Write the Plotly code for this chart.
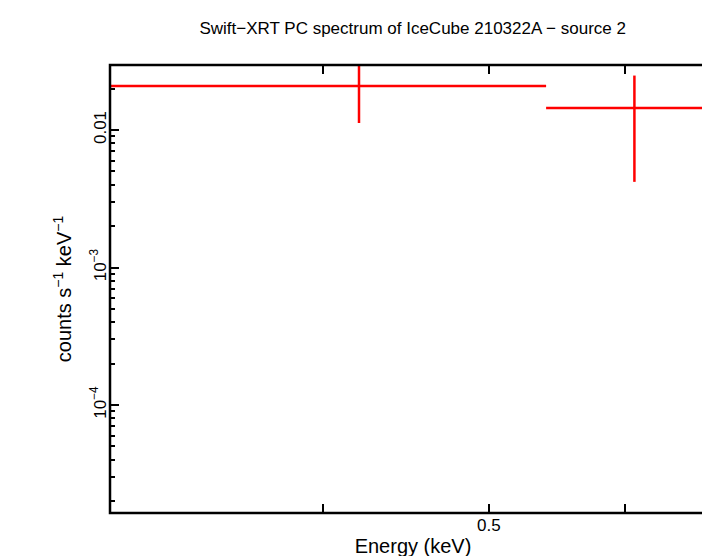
import plotly.graph_objects as go

# Spectrum bins (keV) and rates (counts s^-1 keV^-1)
energy = [0.42, 0.608]
energy_lo = [0.29, 0.54]
energy_hi = [0.54, 0.69]
rate = [0.0209, 0.01445]
rate_lo = [0.01125, 0.0042]
rate_hi = [0.04, 0.0249]

y_tickvals = [1e-4, 1e-3, 1e-2]
y_ticktext = ["10<sup>\u22124</sup>", "10<sup>\u22123</sup>", "0.01"]
y_minor = [m * 10.0 ** p for p in (-5, -4, -3, -2) for m in range(2, 10)]
x_tickvals = [0.4, 0.5, 0.6]
x_ticktext = ["", "0.5", ""]

xr = [-0.522, -0.1685]
yr = [-4.785, -1.527]

fig = go.Figure(go.Scatter(
    x=energy, y=rate, mode="markers",
    marker=dict(size=1, color="#ff0000"),
    error_x=dict(type="data", symmetric=False,
                 array=[h - e for h, e in zip(energy_hi, energy)],
                 arrayminus=[e - l for e, l in zip(energy, energy_lo)],
                 width=0, thickness=2.5, color="#ff0000"),
    error_y=dict(type="data", symmetric=False,
                 array=[h - r for h, r in zip(rate_hi, rate)],
                 arrayminus=[r - l for r, l in zip(rate, rate_lo)],
                 width=0, thickness=2.5, color="#ff0000"),
    showlegend=False, cliponaxis=True,
))
# invisible trace to carry the minor-tick axes
fig.add_trace(go.Scatter(x=[0.5], y=[1e-3], xaxis="x2", yaxis="y2", mode="markers",
                         marker=dict(opacity=0), showlegend=False, hoverinfo="skip"))

axis_style = dict(showline=False, mirror="allticks", automargin=False,
                  ticks="inside", tickcolor="black", tickwidth=2, ticklen=9,
                  showgrid=False, zeroline=False)

fig.update_layout(
    width=710, height=556,
    paper_bgcolor="white", plot_bgcolor="white",
    margin=dict(l=102, r=2, t=57, b=51),
    font=dict(family="Liberation Sans, Arial", size=17, color="black"),
    title=dict(text="Swift\u2212XRT PC spectrum of IceCube 210322A \u2212 source 2",
               x=0.57, xanchor="center", y=0.975, yanchor="top", font=dict(size=17)),
    xaxis=dict(type="log", range=xr, tickvals=x_tickvals, ticktext=x_ticktext,
               title=dict(text="Energy (keV)", standoff=4), **axis_style),
    yaxis=dict(type="log", range=yr, tickvals=y_tickvals, ticktext=y_ticktext,
               tickangle=-90,
               title=dict(text="counts s<sup>\u22121</sup> keV<sup>\u22121</sup>", standoff=10),
               **axis_style),
    xaxis2=dict(type="log", range=xr, overlaying="x", showticklabels=False, tickvals=[],
                showgrid=False, zeroline=False),
    yaxis2=dict(type="log", range=yr, overlaying="y", tickvals=y_minor, showticklabels=False,
                ticks="inside", ticklen=5, tickwidth=2, tickcolor="black", mirror="allticks",
                showline=False, showgrid=False, zeroline=False),
    shapes=[dict(type="rect", xref="paper", yref="paper", x0=0, x1=1, y0=0, y1=1,
                 line=dict(color="black", width=2.5))],
)

fig.write_html("out.html")
